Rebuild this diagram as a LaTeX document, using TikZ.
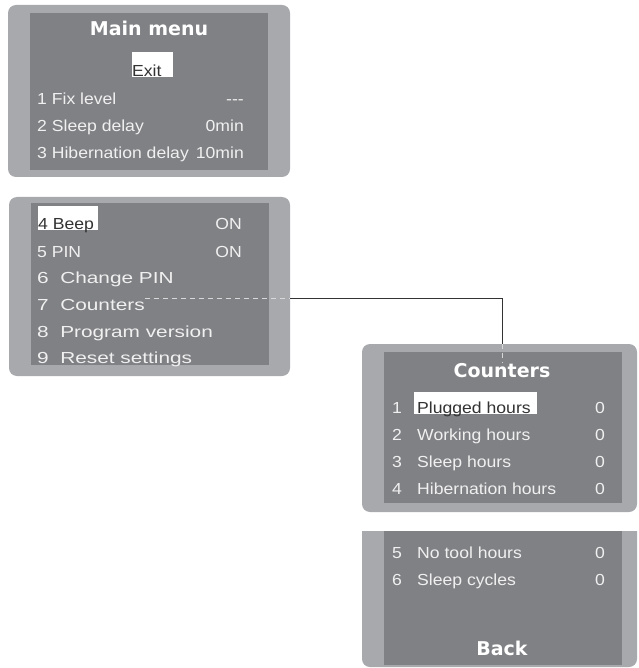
\documentclass[tikz,border=0pt]{standalone}
\usepackage{fontspec}
\setmainfont{Liberation Sans}
\newfontfamily\lcdfont[FakeStretch=1.1]{Liberation Sans}
\newfontfamily\lcdwide[FakeStretch=1.3]{Liberation Sans}
\newfontfamily\lcdtitle{DejaVu Sans}
\definecolor{frame}{HTML}{A8A9AD}
\definecolor{screen}{HTML}{808185}
\definecolor{pixel}{HTML}{F0F0F0}
\definecolor{ink}{HTML}{333333}

\begin{document}
\begin{tikzpicture}[x=1pt,y=-1pt,
    framebox/.style={fill=frame,rounded corners=8pt,inner sep=0pt},
    screenbox/.style={fill=screen,inner sep=0pt},
    row/.style={anchor=base west,inner sep=0pt,text=pixel,font=\lcdfont\fontsize{16}{18}\selectfont},
    widerow/.style={row,font=\lcdwide\fontsize{16}{18}\selectfont},
    val/.style={row,anchor=base east},
    sel/.style={row,text=ink},
    title/.style={anchor=base,inner sep=0pt,text=white,font=\lcdtitle\bfseries\fontsize{19}{21}\selectfont},
    dashlink/.style={draw=pixel!90!black,line width=0.8pt,dash pattern=on 5pt off 4pt},
    link/.style={draw=ink,line width=0.8pt}]
  \useasboundingbox (0,0) rectangle (638,668);

  % main menu
  \node[framebox,minimum width=282pt,minimum height=172pt] (menu1) at (149,91) {};
  \node[screenbox,minimum width=238pt,minimum height=157pt] (screen1) at (149,91.5) {};
  \node[title] (mtitle) at (149,36) {Main menu};
  \fill[white] (132,52) rectangle (173,77);
  \node[sel] (exit) at (132,77) {Exit};
  \node[row] (fix) at (37,105) {1 Fix level};
  \node[val] (fixv) at (244,105) {-{}-{}-};
  \node[row] (sleep) at (37,132) {2 Sleep delay};
  \node[val] (sleepv) at (244,132) {0min};
  \node[row] (hib) at (37,159) {3 Hibernation delay};
  \node[val] (hibv) at (244,159) {10min};

  % main menu, second page
  \node[framebox,minimum width=281pt,minimum height=179pt] (menu2) at (149.5,286.5) {};
  \node[screenbox,minimum width=238pt,minimum height=162pt] (screen2) at (150,284) {};
  \fill[white] (38,206) rectangle (98,230);
  \node[sel] (beep) at (38,229) {4 Beep};
  \node[val] (beepv) at (242,229) {ON};
  \node[row] (pin) at (37,257) {5 PIN};
  \node[val] (pinv) at (242,257) {ON};
  \node[widerow] (chg) at (37,283) {6\ \ Change PIN};
  \node[widerow] (c7) at (37,310) {7\ \ Counters};
  \node[widerow] (prog) at (37,337) {8\ \ Program version};
  \node[widerow] (reset) at (37,363) {9\ \ Reset settings};

  % counters
  \node[framebox,minimum width=275pt,minimum height=168pt] (cnt) at (499.5,428) {};
  \node[screenbox,minimum width=238pt,minimum height=151pt] (screen3) at (503,427.5) {};
  \node[title] (ctitle) at (502,377) {Counters};
  \fill[white] (414,392) rectangle (537,414);
  \node[row] (n1) at (392,413) {1};
  \node[sel] (plug) at (417,413) {Plugged hours};
  \node[val] (plugv) at (605,413) {0};
  \node[row] (n2) at (392,440) {2};
  \node[row] (work) at (417,440) {Working hours};
  \node[val] (workv) at (605,440) {0};
  \node[row] (n3) at (392,467) {3};
  \node[row] (sleeph) at (417,467) {Sleep hours};
  \node[val] (sleephv) at (605,467) {0};
  \node[row] (n4) at (392,494) {4};
  \node[row] (hibh) at (417,494) {Hibernation hours};
  \node[val] (hibhv) at (605,494) {0};

  % counters, second page
  \begin{scope}
    \clip (362,531) rectangle (637,668);
    \fill[frame,rounded corners=8pt] (362,500) rectangle (637,667);
  \end{scope}
  \fill[screen] (384,531) rectangle (622,665);
  \node[row] (n5) at (392,558) {5};
  \node[row] (notool) at (417,558) {No tool hours};
  \node[val] (notoolv) at (605,558) {0};
  \node[row] (n6) at (392,585) {6};
  \node[row] (cycles) at (417,585) {Sleep cycles};
  \node[val] (cyclesv) at (605,585) {0};
  \node[title] (back) at (502,655) {Back};

  % link from menu entry to its screen
  \draw[dashlink] (c7.north east) -- (c7.north east -| menu2.east);
  \draw[link] (c7.north east -| menu2.east) -| (ctitle.north |- cnt.north);
  \draw[dashlink] (ctitle.north |- cnt.north) -- (ctitle.north);
\end{tikzpicture}
\end{document}
